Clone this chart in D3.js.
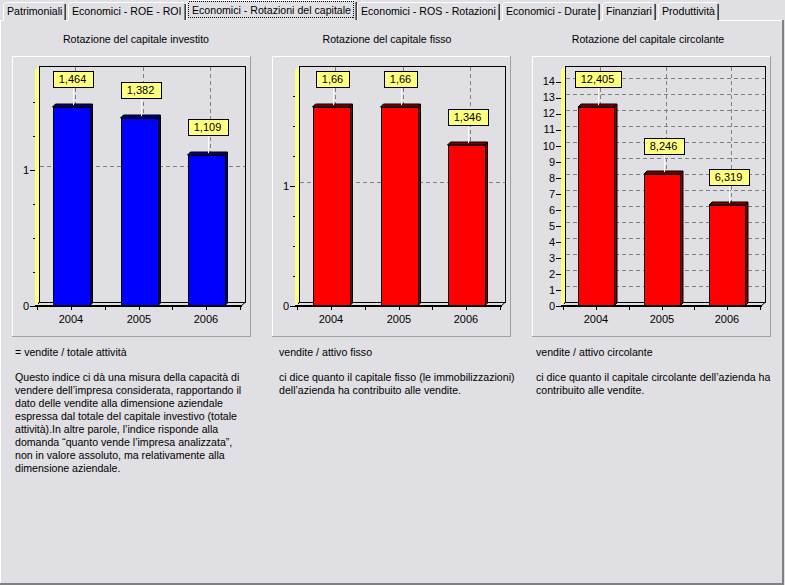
<!DOCTYPE html>
<html>
<head>
<meta charset="utf-8">
<script src="https://cdn.jsdelivr.net/npm/d3@7"></script>
<style>
body { margin: 0; background: #e0dfe3; }
svg { display: block; font-family: "Liberation Sans", Arial, sans-serif; font-size: 11px; }
.ui { font-size: 10.6px; }
</style>
</head>
<body>
<div id="app"></div>
<script>
// ---- data ----
var tabNames = ["Patrimoniali", "Economici - ROE - ROI", "Economici - Rotazioni del capitale",
  "Economici - ROS - Rotazioni", "Economici - Durate", "Finanziari", "Produttività"];
var selectedTab = 2;

var years = ["2004", "2005", "2006"];
var chartTitles = ["Rotazione del capitale investito", "Rotazione del capitale fisso", "Rotazione del capitale circolante"];

var valInvestito = [1.464, 1.382, 1.109];
var valFisso = [1.66, 1.66, 1.346];
var valCircolante = [12.405, 8.246, 6.319];

var axisMax = [1.735, 1.967, 14.72];
var majorInvestito = [0, 1];
var minorInvestito = [0.25, 0.5, 0.75, 1.25, 1.5];
var majorFisso = [0, 1];
var minorFisso = [0.25, 0.5, 0.75, 1.25, 1.5, 1.75];
var majorCircolante = [0, 1, 2, 3, 4, 5, 6, 7, 8, 9, 10, 11, 12, 13, 14];
var minorCircolante = [];

var formulas = ["= vendite / totale attività", "vendite / attivo fisso", "vendite / attivo circolante"];
var notesInvestito = [
  "Questo indice ci dà una misura della capacità di",
  "vendere dell’impresa considerata, rapportando il",
  "dato delle vendite alla dimensione aziendale",
  "espressa dal totale del capitale investivo (totale",
  "attività).In altre parole, l’indice risponde alla",
  "domanda “quanto vende l’impresa analizzata”,",
  "non in valore assoluto, ma relativamente alla",
  "dimensione aziendale."
];
var notesFisso = [
  "ci dice quanto il capitale fisso (le immobilizzazioni)",
  "dell’azienda ha contribuito alle vendite."
];
var notesCircolante = [
  "ci dice quanto il capitale circolante dell’azienda ha",
  "contribuito alle vendite."
];

// ---- layout ----
var W = 785, H = 585;
var bg = "#e0dfe3";
var depth = 4, barDepth = 3;
var titleX = [136, 387, 648];
var noteX = [15, 279, 536];

var fmt = d3.formatLocale({decimal: ",", thousands: ".", grouping: [3], currency: ["", "€"]}).format(".3~f");

var svg = d3.select("#app").append("svg")
  .attr("width", W)
  .attr("height", H);

// ---- tab strip ----
var tabsG = svg.append("g").attr("shape-rendering", "crispEdges");

// page frame
tabsG.append("line").attr("x1", 0).attr("x2", 782).attr("y1", 20.5).attr("y2", 20.5).attr("stroke", "#fff");
tabsG.append("line").attr("x1", 0.5).attr("x2", 0.5).attr("y1", 20).attr("y2", 584).attr("stroke", "#fff");
tabsG.append("rect").attr("x", 782).attr("y", 20).attr("width", 2).attr("height", 565).attr("fill", "#808080");
tabsG.append("rect").attr("x", 0).attr("y", 583).attr("width", 784).attr("height", 2).attr("fill", "#808080");

var tx = 3;
var tabBoxes = [];
tabNames.forEach(function(name, i) {
  var t = tabsG.append("text").attr("class", "ui").text(name).attr("y", 15).attr("fill", "#000");
  var tw = t.node().getComputedTextLength();
  var w = Math.round(tw) + 8;
  var sel = i == selectedTab;
  var x0 = sel ? tx - 2 : tx, x1 = sel ? tx + w + 2 : tx + w;
  var y0 = sel ? 0 : 2;
  tabBoxes.push({x0: x0, x1: x1, y0: y0, sel: sel, t: t, tx: tx, w: w});
  tx += w + 2;
});

tabBoxes.forEach(function(b) {
  var g = tabsG.insert("g", "text");
  g.append("rect").attr("x", b.x0).attr("y", b.y0).attr("width", b.x1 - b.x0).attr("height", 21 - b.y0).attr("fill", bg);
  g.append("line").attr("x1", b.x0 + 0.5).attr("x2", b.x0 + 0.5).attr("y1", b.y0 + 2).attr("y2", b.sel ? 21 : 20).attr("stroke", "#fff");
  g.append("line").attr("x1", b.x0 + 2).attr("x2", b.x1 - 2).attr("y1", b.y0 + 0.5).attr("y2", b.y0 + 0.5).attr("stroke", "#fff");
  g.append("line").attr("x1", b.x0 + 1).attr("x2", b.x0 + 2).attr("y1", b.y0 + 1.5).attr("y2", b.y0 + 1.5).attr("stroke", "#fff");
  g.append("line").attr("x1", b.x1 - 1.5).attr("x2", b.x1 - 1.5).attr("y1", b.y0 + 2).attr("y2", 20).attr("stroke", "#808080");
  g.append("line").attr("x1", b.x1 - 0.5).attr("x2", b.x1 - 0.5).attr("y1", b.y0 + 2).attr("y2", 20).attr("stroke", "#404040");
  b.t.attr("x", b.tx + 4).attr("y", b.sel ? 14 : 15);
  if (b.sel) {
    tabsG.append("rect")
      .attr("x", b.x0 + 2.5).attr("y", b.y0 + 1.5)
      .attr("width", b.x1 - b.x0 - 6).attr("height", 16)
      .attr("fill", "none").attr("stroke", "#000").attr("stroke-dasharray", "1,1");
  }
});

// ---- charts ----
var charts = [
  {values: valInvestito, max: axisMax[0], major: majorInvestito, minor: minorInvestito, color: "#0000ff", dark: "#000080", formula: formulas[0], notes: notesInvestito},
  {values: valFisso, max: axisMax[1], major: majorFisso, minor: minorFisso, color: "#ff0000", dark: "#800000", formula: formulas[1], notes: notesFisso},
  {values: valCircolante, max: axisMax[2], major: majorCircolante, minor: minorCircolante, color: "#ff0000", dark: "#800000", formula: formulas[2], notes: notesCircolante}
];

charts.forEach(function(c, i) {
  var px = 12 + 260 * i, py = 56;
  var g = svg.append("g");

  // title
  g.append("text").attr("class", "ui").text(chartTitles[i])
    .attr("x", titleX[i]).attr("y", 43)
    .attr("text-anchor", "middle");

  // panel bevel
  var panel = g.append("g").attr("shape-rendering", "crispEdges");
  panel.append("line").attr("x1", px).attr("x2", px + 238).attr("y1", py + 0.5).attr("y2", py + 0.5).attr("stroke", "#fff");
  panel.append("line").attr("x1", px + 0.5).attr("x2", px + 0.5).attr("y1", py).attr("y2", py + 280).attr("stroke", "#fff");
  panel.append("line").attr("x1", px + 238.5).attr("x2", px + 238.5).attr("y1", py).attr("y2", py + 281).attr("stroke", "#a0a0a0");
  panel.append("line").attr("x1", px).attr("x2", px + 239).attr("y1", py + 280.5).attr("y2", py + 280.5).attr("stroke", "#a0a0a0");

  // y tick labels first, to measure their width
  var yFront = d3.scaleLinear().domain([0, c.max]).range([306, 70]);
  var yLabels = g.append("g").selectAll("text")
    .data(c.major)
    .enter()
    .append("text")
    .text(function(d) { return d; });
  var labelW = d3.max(yLabels.nodes(), function(n) { return n.getComputedTextLength(); });
  var left = Math.round(px + 10 + labelW + 7);
  yLabels.attr("x", left - 6)
    .attr("y", function(d) { return yFront(d); })
    .attr("dy", "0.35em")
    .attr("text-anchor", "end");

  var backLeft = left + depth;
  var backRight = px + 233;
  var frontRight = backRight - depth;
  var topBack = yFront(c.max) - depth;
  var floorBack = yFront(0) - depth;

  var xScale = d3.scaleBand()
    .domain(years)
    .range([left + 2, frontRight - 1]);
  var bw = xScale.bandwidth();
  var barW = Math.round(bw * 0.545);
  var center = function(d) { return Math.round(xScale(d) + bw / 2); };

  var grid = g.append("g").attr("shape-rendering", "crispEdges");

  // back wall frame
  grid.append("rect")
    .attr("x", backLeft + 0.5).attr("y", topBack + 0.5)
    .attr("width", backRight - backLeft).attr("height", floorBack - topBack)
    .attr("fill", "none").attr("stroke", "#000");

  // horizontal gridlines
  grid.selectAll(".hgrid")
    .data(c.major)
    .enter()
    .append("line")
    .attr("x1", backLeft + 1).attr("x2", backRight)
    .attr("y1", function(d) { return Math.round(yFront(d) - depth) + 0.5; })
    .attr("y2", function(d) { return Math.round(yFront(d) - depth) + 0.5; })
    .attr("stroke", function(d) { return d == 0 ? "#000" : "#808080"; })
    .attr("stroke-dasharray", "4,3");

  // vertical gridlines
  grid.selectAll(".vgrid")
    .data(years)
    .enter()
    .append("line")
    .attr("x1", function(d) { return center(d) + depth + 0.5; })
    .attr("x2", function(d) { return center(d) + depth + 0.5; })
    .attr("y1", topBack + 1).attr("y2", floorBack)
    .attr("stroke", "#808080")
    .attr("stroke-dasharray", "4,3");

  // left wall
  g.append("path")
    .attr("d", "M" + left + "," + yFront(0) + "L" + left + "," + yFront(c.max) +
      "L" + backLeft + "," + topBack + "L" + backLeft + "," + floorBack + "Z")
    .attr("fill", "#ffff80");
  grid.append("line")
    .attr("x1", backLeft - 0.5).attr("x2", backLeft - 0.5)
    .attr("y1", topBack + 1).attr("y2", floorBack + 2)
    .attr("stroke", "#000");

  // floor right edge
  g.append("line")
    .attr("x1", backRight + 0.5).attr("y1", floorBack)
    .attr("x2", frontRight).attr("y2", yFront(0))
    .attr("stroke", "#000");

  // bars
  var bars = g.append("g").selectAll("g")
    .data(c.values)
    .enter()
    .append("g");

  bars.append("path")
    .attr("d", function(d, k) {
      var x1 = center(years[k]) - barW / 2 + barW, yt = Math.round(yFront(d));
      return "M" + x1 + "," + yt + "L" + (x1 + barDepth) + "," + (yt - barDepth) +
        "L" + (x1 + barDepth) + "," + (yFront(0) - barDepth) + "L" + x1 + "," + yFront(0) + "Z";
    })
    .attr("fill", c.dark)
    .attr("stroke", "#000");

  bars.append("path")
    .attr("d", function(d, k) {
      var x0 = center(years[k]) - barW / 2, yt = Math.round(yFront(d));
      return "M" + x0 + "," + yt + "L" + (x0 + barDepth) + "," + (yt - barDepth) +
        "L" + (x0 + barW + barDepth) + "," + (yt - barDepth) + "L" + (x0 + barW) + "," + yt + "Z";
    })
    .attr("fill", c.dark)
    .attr("stroke", "#000");

  bars.append("rect")
    .attr("x", function(d, k) { return center(years[k]) - barW / 2 + 0.5; })
    .attr("y", function(d) { return Math.round(yFront(d)) + 0.5; })
    .attr("width", barW)
    .attr("height", function(d) { return yFront(0) - Math.round(yFront(d)); })
    .attr("fill", c.color)
    .attr("stroke", "#000")
    .attr("shape-rendering", "crispEdges");

  // front floor edge (x axis line)
  g.append("line")
    .attr("x1", left).attr("x2", frontRight + 1)
    .attr("y1", yFront(0)).attr("y2", yFront(0))
    .attr("stroke", "#000").attr("stroke-width", 2)
    .attr("shape-rendering", "crispEdges");

  // x ticks at band edges and centers
  var xTicks = [];
  years.forEach(function(y) { xTicks.push(Math.round(xScale(y)), center(y)); });
  xTicks.push(Math.round(xScale.range()[1]));
  g.append("g").attr("shape-rendering", "crispEdges")
    .selectAll("line")
    .data(xTicks)
    .enter()
    .append("line")
    .attr("x1", function(d) { return d + 0.5; }).attr("x2", function(d) { return d + 0.5; })
    .attr("y1", yFront(0)).attr("y2", yFront(0) + 4)
    .attr("stroke", "#000");

  g.append("g").selectAll("text")
    .data(years)
    .enter()
    .append("text")
    .text(function(d) { return d; })
    .attr("x", function(d) { return center(d); })
    .attr("y", 323)
    .attr("text-anchor", "middle");

  // y ticks
  var yt = g.append("g").attr("shape-rendering", "crispEdges");
  yt.selectAll(".major")
    .data(c.major)
    .enter()
    .append("line")
    .attr("x1", left - 5).attr("x2", left)
    .attr("y1", function(d) { return Math.round(yFront(d)) + 0.5; })
    .attr("y2", function(d) { return Math.round(yFront(d)) + 0.5; })
    .attr("stroke", "#000");
  yt.selectAll(".minor")
    .data(c.minor)
    .enter()
    .append("line")
    .attr("x1", left - 2).attr("x2", left)
    .attr("y1", function(d) { return Math.round(yFront(d)) + 0.5; })
    .attr("y2", function(d) { return Math.round(yFront(d)) + 0.5; })
    .attr("stroke", "#000");

  // value labels
  var marks = g.append("g").selectAll("g")
    .data(c.values)
    .enter()
    .append("g");
  marks.each(function(d, k) {
    var m = d3.select(this);
    var cx = center(years[k]) + 1.5;
    var top = Math.round(yFront(d)) - barDepth;
    var boxBottom = Math.round(yFront(d)) - 20;
    m.append("line")
      .attr("x1", Math.round(cx) + 0.5).attr("x2", Math.round(cx) + 0.5)
      .attr("y1", boxBottom).attr("y2", top + 1)
      .attr("stroke", "#fff").attr("shape-rendering", "crispEdges");
    var box = m.append("rect");
    var t = m.append("text").text(fmt(d))
      .attr("x", cx).attr("y", boxBottom - 4)
      .attr("text-anchor", "middle");
    var tw = Math.round(t.node().getComputedTextLength()) + 12;
    box.attr("x", Math.round(cx - tw / 2) + 0.5).attr("y", boxBottom - 16 + 0.5)
      .attr("width", tw).attr("height", 16)
      .attr("fill", "#ffff80").attr("stroke", "#000")
      .attr("shape-rendering", "crispEdges");
  });

  // description text
  g.append("text").attr("class", "ui").text(c.formula)
    .attr("x", noteX[i]).attr("y", 356);
  g.append("g").selectAll("text")
    .data(c.notes)
    .enter()
    .append("text")
    .attr("class", "ui")
    .text(function(d) { return d; })
    .attr("x", noteX[i])
    .attr("y", function(d, k) { return 381 + k * 13; });
});
</script>
</body>
</html>
